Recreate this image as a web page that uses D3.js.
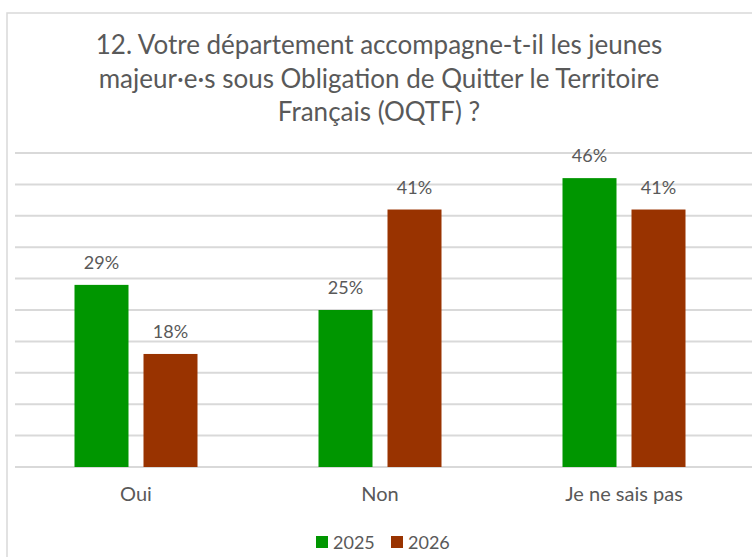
<!DOCTYPE html>
<html>
<head>
<meta charset="utf-8">
<script src="https://cdn.jsdelivr.net/npm/d3@7"></script>
<style>
  body { margin: 0; background: #fff; }
  svg { display: block; font-family: Lato, "Open Sans", sans-serif; }
</style>
</head>
<body>
<svg width="752" height="557"></svg>
<script>
// chart data
var categories = ["Oui", "Non", "Je ne sais pas"];
var years = ["2025", "2026"];
var values2025 = [29, 25, 46];
var values2026 = [18, 41, 41];
var yTicks = [0, 5, 10, 15, 20, 25, 30, 35, 40, 45, 50];
var titleLines = [
  "12. Votre département accompagne-t-il les jeunes",
  "majeur·e·s sous Obligation de Quitter le Territoire",
  "Français (OQTF) ?"
];
var colors = {"2025": "#009600", "2026": "#993300"};

var svg = d3.select("svg");

// outer chart frame (only partly visible)
svg.append("rect")
  .attr("x", 7).attr("y", 13)
  .attr("width", 760).attr("height", 560)
  .attr("fill", "none")
  .attr("stroke", "#d9d9d9")
  .attr("stroke-width", 1.5);

// title
svg.append("text")
  .attr("text-anchor", "middle")
  .attr("fill", "#595959")
  .attr("font-size", 26)
  .selectAll("tspan")
  .data(titleLines)
  .enter().append("tspan")
  .attr("x", 379)
  .attr("y", function(d, i) { return 54 + i * 33.5; })
  .text(function(d) { return d; });

var plotLeft = 14, plotRight = 746, plotTop = 153, plotBottom = 467;

var x0 = d3.scaleBand().domain(categories).range([plotLeft, plotRight]);
var y = d3.scaleLinear().domain([0, 50]).range([plotBottom, plotTop]);

var barW = 54, gap = 15;
var x1 = function(yr) { return yr === "2025" ? -(gap / 2 + barW) : gap / 2; };

// gridlines
svg.append("g")
  .selectAll("line")
  .data(yTicks)
  .enter().append("line")
  .attr("x1", 15).attr("x2", 752)
  .attr("y1", function(d) { return y(d); })
  .attr("y2", function(d) { return y(d); })
  .attr("stroke", "#d9d9d9")
  .attr("stroke-width", 2);

var rows = [];
categories.forEach(function(c, i) {
  rows.push({cat: c, year: "2025", v: values2025[i]});
  rows.push({cat: c, year: "2026", v: values2026[i]});
});

// bars
svg.append("g")
  .selectAll("rect")
  .data(rows)
  .enter().append("rect")
  .attr("x", function(d) { return x0(d.cat) + x0.bandwidth() / 2 + x1(d.year); })
  .attr("y", function(d) { return y(d.v); })
  .attr("width", barW)
  .attr("height", function(d) { return plotBottom - y(d.v); })
  .attr("fill", function(d) { return colors[d.year]; });

// value labels
svg.append("g")
  .selectAll("text")
  .data(rows)
  .enter().append("text")
  .attr("x", function(d) { return x0(d.cat) + x0.bandwidth() / 2 + x1(d.year) + barW / 2; })
  .attr("y", function(d) { return y(d.v) - 16; })
  .attr("text-anchor", "middle")
  .attr("fill", "#595959")
  .attr("font-size", 18)
  .text(function(d) { return d.v + "%"; });

// category axis
var xAxis = svg.append("g")
  .attr("transform", "translate(0," + plotBottom + ")")
  .call(d3.axisBottom(x0).tickSize(0).tickPadding(20));
xAxis.select(".domain").remove();
xAxis.selectAll("text")
  .attr("fill", "#595959")
  .attr("font-size", 20)
  .attr("font-family", "Lato, sans-serif");

// legend
var legend = svg.append("g");
var legendX = [316, 391];
years.forEach(function(yr, i) {
  legend.append("rect")
    .attr("x", legendX[i]).attr("y", 536)
    .attr("width", 12).attr("height", 12)
    .attr("fill", colors[yr]);
  legend.append("text")
    .attr("x", legendX[i] + 17).attr("y", 549)
    .attr("fill", "#595959")
    .attr("font-size", 18)
    .text(yr);
});
</script>
</body>
</html>
